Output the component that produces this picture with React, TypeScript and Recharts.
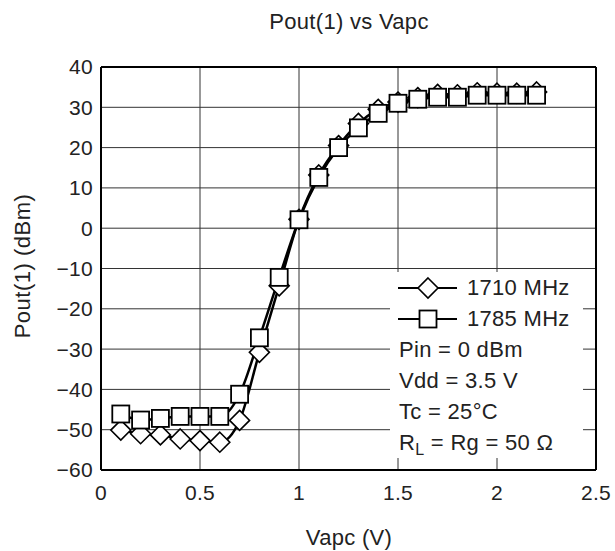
import React from "react";
import { LineChart, Line, XAxis, YAxis, CartesianGrid, ReferenceLine } from "recharts";

const vapc = [0.1, 0.2, 0.3, 0.4, 0.5, 0.6, 0.7, 0.8, 0.9, 1.0, 1.1, 1.2, 1.3, 1.4, 1.5, 1.6, 1.7, 1.8, 1.9, 2.0, 2.1, 2.2];
const pout1710 = [-50.1, -51.0, -51.3, -52.3, -52.7, -53.1, -47.7, -30.8, -14.3, 2.2, 13.2, 20.5, 26.0, 29.5, 31.3, 32.4, 33.2, 33.1, 33.6, 33.5, 33.5, 33.8];
const pout1785 = [-46.1, -47.6, -47.2, -46.7, -46.7, -46.7, -41.2, -27.2, -12.2, 2.1, 12.6, 20.0, 24.9, 28.5, 31.0, 32.0, 32.5, 32.5, 33.0, 33.0, 33.0, 33.0];

const xTicks = [0, 0.5, 1, 1.5, 2, 2.5];
const yTicks = [-60, -50, -40, -30, -20, -10, 0, 10, 20, 30, 40];
const yMinorTicks = [-58, -56, -54, -52, -48, -46, -44, -42, -38, -36, -34, -32, -28, -26, -24, -22, -18, -16, -14, -12, -8, -6, -4, -2, 2, 4, 6, 8, 12, 14, 16, 18, 22, 24, 26, 28, 32, 34, 36, 38];

const notes = ["Pin = 0 dBm", "Vdd = 3.5 V", "Tc = 25°C"];

const data = vapc.map((v, i) => ({ v, a: pout1710[i], b: pout1785[i] }));

const FONT = "'Liberation Sans', Arial, sans-serif";

function Diamond(props: any) {
  const { cx, cy } = props;
  if (cx == null || cy == null) return <g />;
  const r = 10;
  return (
    <path
      d={`M${cx},${cy - r}L${cx + r},${cy}L${cx},${cy + r}L${cx - r},${cy}Z`}
      fill="#fff"
      stroke="#000"
      strokeWidth={1.6}
    />
  );
}

function Square(props: any) {
  const { cx, cy } = props;
  if (cx == null || cy == null) return <g />;
  const s = 8.5;
  return <rect x={cx - s} y={cy - s} width={s * 2} height={s * 2} fill="#fff" stroke="#000" strokeWidth={1.8} />;
}

const fmtY = (v: number) => (v < 0 ? `\u2212${-v}` : `${v}`);

const tickStyle = { fill: "#222", fontSize: 21, fontFamily: FONT, letterSpacing: 0.3 };

export default function App() {
  return (
    <div style={{ position: "absolute", left: 0, top: 0, width: 615, height: 551, background: "#fff", fontFamily: FONT, color: "#222" }}>
      <LineChart width={615} height={551} data={data} margin={{ top: 67, right: 19, bottom: 51, left: 41 }}>
        <CartesianGrid stroke="#333" strokeWidth={1} />
        <XAxis
          dataKey="v"
          type="number"
          domain={[0, 2.5]}
          ticks={xTicks}
          tickLine={false}
          axisLine={{ stroke: "#000", strokeWidth: 2 }}
          tick={tickStyle}
          tickMargin={9}
          height={30}
        />
        <YAxis
          domain={[-60, 40]}
          ticks={yTicks}
          tickFormatter={fmtY}
          tickLine={false}
          axisLine={{ stroke: "#000", strokeWidth: 2 }}
          tick={tickStyle}
          tickMargin={2}
          width={60}
          interval={0}
        />
        <YAxis
          yAxisId="minor"
          domain={[-60, 40]}
          ticks={yMinorTicks}
          allowDataOverflow
          mirror
          width={0}
          axisLine={false}
          tickLine={{ stroke: "#000", strokeWidth: 1 }}
          tickSize={6}
          tick={() => <g />}
          interval={0}
        />
        <ReferenceLine y={40} stroke="#000" strokeWidth={2} />
        <ReferenceLine x={2.5} stroke="#000" strokeWidth={2} />
        <Line
          dataKey="a"
          type="monotone"
          stroke="#000"
          strokeWidth={2.5}
          dot={<Diamond />}
          isAnimationActive={false}
        />
        <Line
          dataKey="b"
          type="monotone"
          stroke="#000"
          strokeWidth={2.5}
          dot={<Square />}
          isAnimationActive={false}
        />
      </LineChart>

      <div style={{ position: "absolute", left: 249, top: 8, width: 200, textAlign: "center", fontSize: 22, letterSpacing: 0.3, lineHeight: "28px" }}>
        Pout(1) vs Vapc
      </div>
      <div style={{ position: "absolute", left: 249, top: 524, width: 200, textAlign: "center", fontSize: 22, letterSpacing: 0.3, lineHeight: "28px" }}>
        Vapc (V)
      </div>
      <div
        style={{
          position: "absolute",
          left: 23,
          top: 266,
          transform: "translate(-50%, -50%) rotate(-90deg)",
          whiteSpace: "nowrap",
          fontSize: 22,
          letterSpacing: 0.5,
          lineHeight: "28px",
        }}
      >
        Pout(1) (dBm)
      </div>

      <div
        style={{
          position: "absolute",
          left: 390,
          top: 272,
          width: 193,
          height: 186,
          background: "#fff",
          fontSize: 22,
          letterSpacing: 0.3,
          lineHeight: "31px",
          whiteSpace: "nowrap",
        }}
      >
        <div style={{ display: "flex", alignItems: "center", height: 31 }}>
          <svg width={77} height={31} style={{ flex: "none" }}>
            <line x1={8} y1={16} x2={67} y2={16} stroke="#000" strokeWidth={2} />
            <path d="M38,6L48,16L38,26L28,16Z" fill="#fff" stroke="#000" strokeWidth={1.6} />
          </svg>
          <span>1710 MHz</span>
        </div>
        <div style={{ display: "flex", alignItems: "center", height: 31 }}>
          <svg width={77} height={31} style={{ flex: "none" }}>
            <line x1={8} y1={16} x2={67} y2={16} stroke="#000" strokeWidth={2} />
            <rect x={29.5} y={7.5} width={17} height={17} fill="#fff" stroke="#000" strokeWidth={1.8} />
          </svg>
          <span>1785 MHz</span>
        </div>
        {notes.map((n) => (
          <div key={n} style={{ height: 31, paddingLeft: 9 }}>
            {n}
          </div>
        ))}
        <div style={{ height: 31, paddingLeft: 9 }}>
          R<sub style={{ fontSize: 16, verticalAlign: "-5px", lineHeight: 0 }}>L</sub> = Rg = 50 Ω
        </div>
      </div>
    </div>
  );
}
